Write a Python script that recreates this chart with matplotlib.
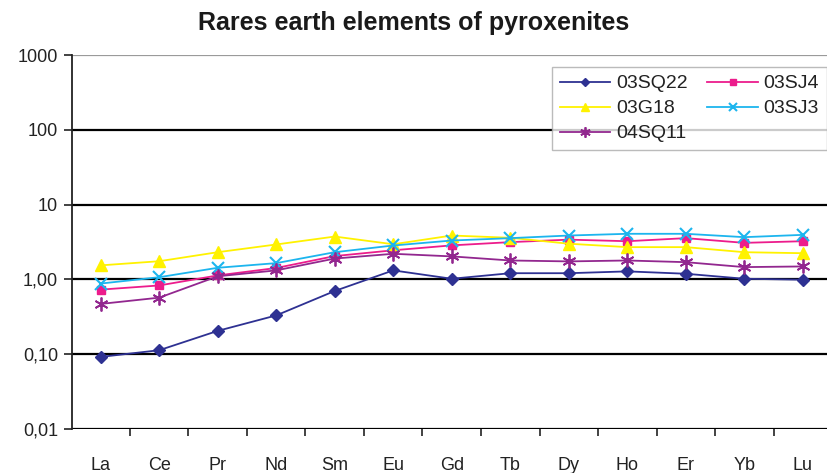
import numpy as np
import matplotlib
matplotlib.use("Agg")
import matplotlib.pyplot as plt
from matplotlib.ticker import FixedLocator, FixedFormatter

plt.rcParams['font.family'] = ['Liberation Sans', 'DejaVu Sans']

# data (chondrite-normalised REE)
elements = ['La', 'Ce', 'Pr', 'Nd', 'Sm', 'Eu', 'Gd', 'Tb', 'Dy', 'Ho', 'Er', 'Yb', 'Lu']
sq22 = [0.092, 0.113, 0.205, 0.33, 0.70, 1.32, 1.02, 1.21, 1.21, 1.28, 1.19, 1.02, 0.99]
sj4 = [0.73, 0.83, 1.13, 1.42, 2.05, 2.45, 2.85, 3.15, 3.4, 3.24, 3.56, 3.08, 3.24]
g18 = [1.54, 1.75, 2.31, 2.93, 3.74, 2.95, 3.86, 3.6, 3.0, 2.7, 2.7, 2.31, 2.24]
sj3 = [0.88, 1.07, 1.43, 1.65, 2.31, 2.84, 3.31, 3.56, 3.86, 4.07, 4.07, 3.67, 3.94]
sq11 = [0.47, 0.57, 1.10, 1.32, 1.9, 2.2, 2.03, 1.79, 1.74, 1.79, 1.70, 1.46, 1.49]

yticks = [0.01, 0.1, 1, 10, 100, 1000]
ytick_labels = ['0,01', '0,10', '1,00', '10', '100', '1000']

fig = plt.figure(figsize=(8.28, 4.73), dpi=100)
ax = fig.add_axes([72/828, 1 - 429/473, 1 - 72/828, (429 - 55)/473])

x = np.arange(len(elements))
l1, = ax.plot(x, sq22, color='#2E3192', marker='D', markersize=6, lw=1.3, label='03SQ22')
l2, = ax.plot(x, sj4, color='#EC1C8C', marker='s', markersize=6, lw=1.3, label='03SJ4')
l3, = ax.plot(x, g18, color='#FFF200', marker='^', markersize=8, lw=1.3, label='03G18')
l4, = ax.plot(x, sj3, color='#1CB5EE', marker='x', markersize=8, mew=1.5, lw=1.3, label='03SJ3')
l5, = ax.plot(x, sq11, color='#92278F', marker=(6, 2, 0), markersize=10, mew=1.3, lw=1.3, label='04SQ11')

ax.set_yscale('log')
ax.set_ylim(0.01, 1000)
ax.set_xlim(-0.49, 12.43)
ax.yaxis.set_major_locator(FixedLocator(yticks))
ax.yaxis.set_major_formatter(FixedFormatter(ytick_labels))
ax.yaxis.set_minor_locator(FixedLocator([]))
ax.set_xticks(x)
ax.set_xticklabels(elements)
ax.set_xticks(x[:-1] + 0.5, minor=True)

for v in yticks[:-1]:
    ax.axhline(v, color='black', lw=1.6, zorder=0)
ax.axhline(1000, color='#9a9a9a', lw=1.6, zorder=0)

for s in ['top', 'right', 'bottom']:
    ax.spines[s].set_visible(False)
ax.spines['left'].set_color('#222222')
ax.spines['left'].set_linewidth(1.3)
ax.tick_params(axis='y', length=6, width=1.2, direction='out', labelsize=13, colors='#222222', pad=4)
ax.tick_params(axis='x', which='major', length=0, labelsize=13, pad=20, colors='#222222')
ax.tick_params(axis='x', which='minor', length=5, width=1.2, direction='out', colors='#222222')

fig.text(0.5, 1 - 23/473, 'Rares earth elements of pyroxenites', ha='center', va='center',
         fontsize=18, fontweight='bold', color='#1a1a1a')

leg = ax.legend(handles=[l1, l3, l5, l2, l4], ncol=2, loc='upper left',
                bbox_to_anchor=((552 - 72)/756, 1 - 12/374), bbox_transform=ax.transAxes,
                frameon=True, fancybox=False, edgecolor='#aaaaaa', fontsize=14,
                handlelength=2.6, handletextpad=0.3, columnspacing=1.0, labelspacing=0.38,
                borderpad=0.4, borderaxespad=0, markerscale=0.75)
leg.get_frame().set_linewidth(1.0)
for t in leg.get_texts():
    t.set_color('#222222')

fig.savefig('out.png', dpi=100)
